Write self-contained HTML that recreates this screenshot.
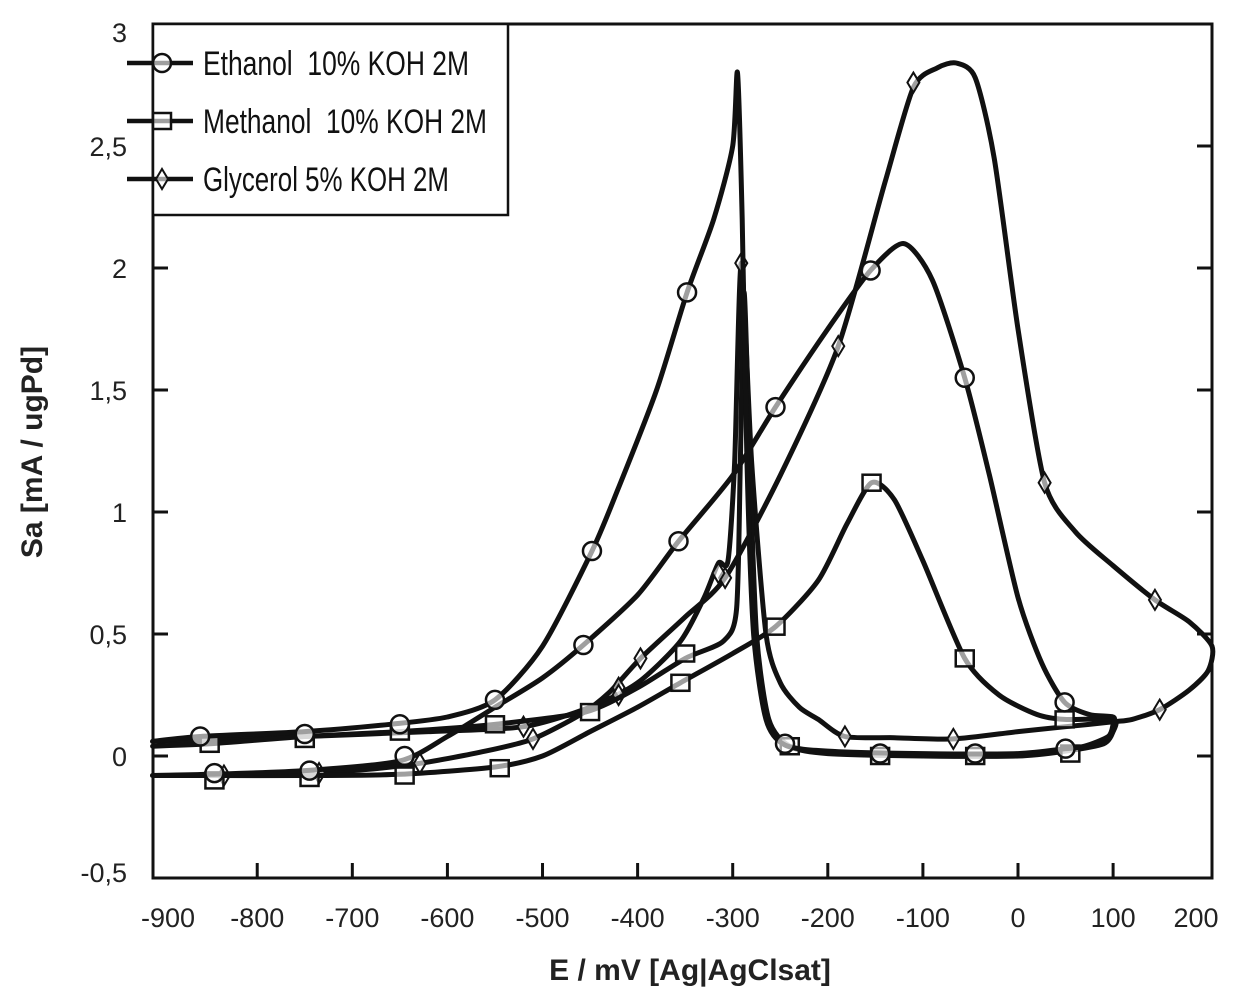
<!DOCTYPE html>
<html><head><meta charset="utf-8">
<style>
html,body{margin:0;padding:0;background:#fff;}
svg{display:block;font-family:"Liberation Sans",Arial,sans-serif;}
</style></head>
<body>
<svg id="chart" width="1238" height="1000" viewBox="0 0 1238 1000" xmlns="http://www.w3.org/2000/svg">
<rect x="0" y="0" width="1238" height="1000" fill="#fff"/>
<g id="axes"></g>
<g id="series"></g>
<g id="legend"></g>
<text x="690" y="980" font-size="30" font-weight="bold" text-anchor="middle" fill="#222">E / mV [Ag|AgClsat]</text>
<text transform="translate(42,452) rotate(-90)" font-size="30" font-weight="bold" text-anchor="middle" fill="#222">Sa [mA / ugPd]</text>
</svg>
<script>
const xTicks = [-900,-800,-700,-600,-500,-400,-300,-200,-100,0,100,200];
const xTickLabels = ["-900","-800","-700","-600","-500","-400","-300","-200","-100","0","100","200"];
const yTicks = [3,2.5,2,1.5,1,0.5,0,-0.5];
const yTickLabels = ["3","2,5","2","1,5","1","0,5","0","-0,5"];

const ethanolE = [-910,-850,-750,-650,-600,-550,-500,-457,-400,-357,-300,-255,-200,-155,-120,-90,-56,-30,0,25,49,75,100,
  100,95,70,50,0,-100,-200,-245,-265,-278,-285,-290,-295,-300,-320,-348,-380,-420,-448,-500,-550,-600,-660,-750,-860,-910];
const ethanolI = [-0.08,-0.075,-0.06,-0.02,0.08,0.2,0.32,0.455,0.66,0.88,1.15,1.43,1.75,1.99,2.1,1.95,1.55,1.15,0.65,0.38,0.22,0.17,0.16,
  0.13,0.08,0.04,0.03,0.01,0.01,0.02,0.045,0.15,0.5,1.2,2.2,2.8,2.5,2.2,1.9,1.5,1.1,0.84,0.45,0.23,0.16,0.13,0.1,0.08,0.06];
const ethanolMarkE = [-845,-745,-645,-457,-357,-255,-155,-56,49,50,-45,-145,-245,-348,-448,-550,-650,-750,-860];
const ethanolMarkI = [-0.07,-0.06,0.0,0.455,0.88,1.43,1.99,1.55,0.22,0.03,0.01,0.01,0.05,1.9,0.84,0.23,0.13,0.09,0.08];

const methanolE = [-910,-850,-750,-650,-550,-500,-450,-400,-355,-300,-255,-210,-180,-154,-130,-100,-56,-20,20,49,100,
  100,90,50,0,-100,-200,-240,-262,-275,-282,-288,-292,-296,-310,-350,-400,-455,-550,-650,-750,-850,-910];
const methanolI = [-0.08,-0.08,-0.08,-0.075,-0.045,0.0,0.1,0.2,0.3,0.42,0.53,0.72,0.95,1.12,1.05,0.8,0.4,0.25,0.17,0.15,0.15,
  0.1,0.05,0.02,0.0,0.0,0.01,0.04,0.15,0.5,1.2,1.9,1.2,0.6,0.47,0.4,0.28,0.18,0.13,0.1,0.08,0.05,0.04];
const methanolMarkE = [-845,-745,-645,-545,-355,-255,-154,-56,49,55,-45,-145,-240,-350,-450,-550,-650,-750,-850];
const methanolMarkI = [-0.1,-0.09,-0.08,-0.05,0.3,0.53,1.12,0.4,0.15,0.01,0.0,0.0,0.04,0.42,0.18,0.13,0.1,0.07,0.05];

const glycerolE = [-910,-800,-700,-629,-560,-510,-460,-430,-397,-350,-308,-250,-189,-140,-110,-85,-65,-45,-25,0,28,60,100,144,180,204,
  200,180,149,120,100,50,0,-68,-130,-182,-210,-230,-250,-265,-280,-291,-298,-305,-315,-330,-355,-400,-450,-520,-620,-750,-910];
const glycerolI = [-0.08,-0.075,-0.06,-0.03,0.02,0.07,0.17,0.26,0.4,0.57,0.73,1.15,1.68,2.35,2.74,2.82,2.84,2.78,2.45,1.75,1.12,0.92,0.78,0.64,0.55,0.45,
  0.35,0.27,0.19,0.15,0.14,0.12,0.1,0.07,0.075,0.08,0.15,0.2,0.3,0.5,1.2,2.02,1.2,0.8,0.79,0.65,0.47,0.3,0.2,0.12,0.1,0.08,0.06];
const glycerolMarkE = [-835,-735,-629,-510,-420,-397,-308,-189,-110,28,144,149,-68,-182,-291,-315,-420,-520];
const glycerolMarkI = [-0.08,-0.07,-0.03,0.07,0.28,0.4,0.73,1.68,2.76,1.12,0.64,0.19,0.07,0.08,2.02,0.75,0.25,0.12];

const X0 = 153, X1 = 1212, Y0 = 24, Y1 = 878;
const xMin = -909.6, xMax = 204, yMin = -0.5, yMax = 3;
function sx(v){ return X0 + (v - xMin) / (xMax - xMin) * (X1 - X0); }
function sy(v){ return Y1 - (v - yMin) / (yMax - yMin) * (Y1 - Y0); }
const NS = "http://www.w3.org/2000/svg";
function mk(tag, attrs, parent){
  const el = document.createElementNS(NS, tag);
  for (const k in attrs) el.setAttribute(k, attrs[k]);
  parent.appendChild(el);
  return el;
}
const axes = document.getElementById('axes');
const frame = mk('rect', {x:X0, y:Y0, width:X1-X0, height:Y1-Y0, fill:'none', stroke:'#111', 'stroke-width':3}, axes);



xTicks.forEach((t,i)=>{
  const x = sx(t);
  if (t > -900 && t < 200) {
    const tk = mk('line', {x1:x, x2:x, y1:Y1, y2:Y1-15, stroke:'#111', 'stroke-width':3}, axes);
    
    
  }
  const lb = mk('text', {x: t===-900 ? 168 : (t===200 ? 1196 : x), y: 927, 'font-size': 27, 'text-anchor':'middle', fill:'#222'}, axes);
  lb.textContent = xTickLabels[i];
  
  
});
yTicks.forEach((t,i)=>{
  const y = sy(t);
  if (t < 3 && t > -0.5) {
    const tk = mk('line', {x1:X0, x2:X0+15, y1:y, y2:y, stroke:'#111', 'stroke-width':3}, axes);
    
    
    const tk2 = mk('line', {x1:X1, x2:X1-15, y1:y, y2:y, stroke:'#111', 'stroke-width':3}, axes);
    
    
  }
  const lb = mk('text', {x: 127, y: (t===3 ? 42 : (t===-0.5 ? 882 : y+10)), 'font-size': 27, 'text-anchor':'end', fill:'#222'}, axes);
  lb.textContent = yTickLabels[i];
  
  
});

const seriesG = document.getElementById('series');
function drawMarker(type, cx, cy, parent){
  let m;
  if (type === 'circle') m = mk('circle', {cx:cx, cy:cy, r:9, fill:'#fff', 'fill-opacity':0.6, stroke:'#111', 'stroke-width':2.5}, parent);
  else if (type === 'square') m = mk('rect', {x:cx-9, y:cy-8, width:18, height:16, fill:'#fff', 'fill-opacity':0.6, stroke:'#111', 'stroke-width':2.5}, parent);
  else m = mk('polygon', {points:`${cx},${cy-10} ${cx+6},${cy} ${cx},${cy+10} ${cx-6},${cy}`, fill:'#fff', 'fill-opacity':0.6, stroke:'#111', 'stroke-width':2}, parent);
  return m;
}
function smoothPath(P){
  const k = 1/8;
  let d = 'M' + P[0][0].toFixed(1) + ',' + P[0][1].toFixed(1);
  for (let i = 0; i < P.length - 1; i++){
    const p0 = P[Math.max(0,i-1)], p1 = P[i], p2 = P[i+1], p3 = P[Math.min(P.length-1,i+2)];
    const c1x = p1[0] + (p2[0]-p0[0])*k, c1y = p1[1] + (p2[1]-p0[1])*k;
    const c2x = p2[0] - (p3[0]-p1[0])*k, c2y = p2[1] - (p3[1]-p1[1])*k;
    d += ' C' + c1x.toFixed(1)+','+c1y.toFixed(1)+' '+c2x.toFixed(1)+','+c2y.toFixed(1)+' '+p2[0].toFixed(1)+','+p2[1].toFixed(1);
  }
  return d;
}
function drawSeries(name, E, I, mE, mI, type){
  const g = mk('g', {}, seriesG);
  
  
  const P = E.map((e,k)=> [sx(e), sy(I[k])]);
  const line = mk('path', {d:smoothPath(P), fill:'none', stroke:'#111', 'stroke-width':5, 'stroke-linejoin':'round', 'stroke-linecap':'round'}, g);
  
  
  mE.forEach((e,k)=>{
    const m = drawMarker(type, sx(e), sy(mI[k]), g);
    
    
  });
}
drawSeries('glycerol', glycerolE, glycerolI, glycerolMarkE, glycerolMarkI, 'diamond');
drawSeries('methanol', methanolE, methanolI, methanolMarkE, methanolMarkI, 'square');
drawSeries('ethanol', ethanolE, ethanolI, ethanolMarkE, ethanolMarkI, 'circle');

const legend = document.getElementById('legend');
const lbox = mk('rect', {x:X0, y:Y0, width:355, height:191, fill:'#fff', stroke:'#111', 'stroke-width':2.5}, legend);


const legNames = ['Ethanol\u00A0\u00A010% KOH 2M','Methanol\u00A0\u00A010% KOH 2M','Glycerol 5% KOH 2M'];
const legTypes = ['circle','square','diamond'];
const legLens = [266, 284, 246];
const legKeys = ['ethanol','methanol','glycerol'];
legNames.forEach((n,k)=>{
  const y = 63 + k*58;
  const g = mk('g', {}, legend);
  
  
  mk('line', {x1:127, x2:193, y1:y, y2:y, stroke:'#111', 'stroke-width':4.5}, g);
  drawMarker(legTypes[k], 162, y, g);
  const t = mk('text', {x:203, y:y+12, 'font-size':34, textLength:legLens[k], lengthAdjust:'spacingAndGlyphs', fill:'#111'}, g);
  t.textContent = n;
});
</script>
</body></html>
